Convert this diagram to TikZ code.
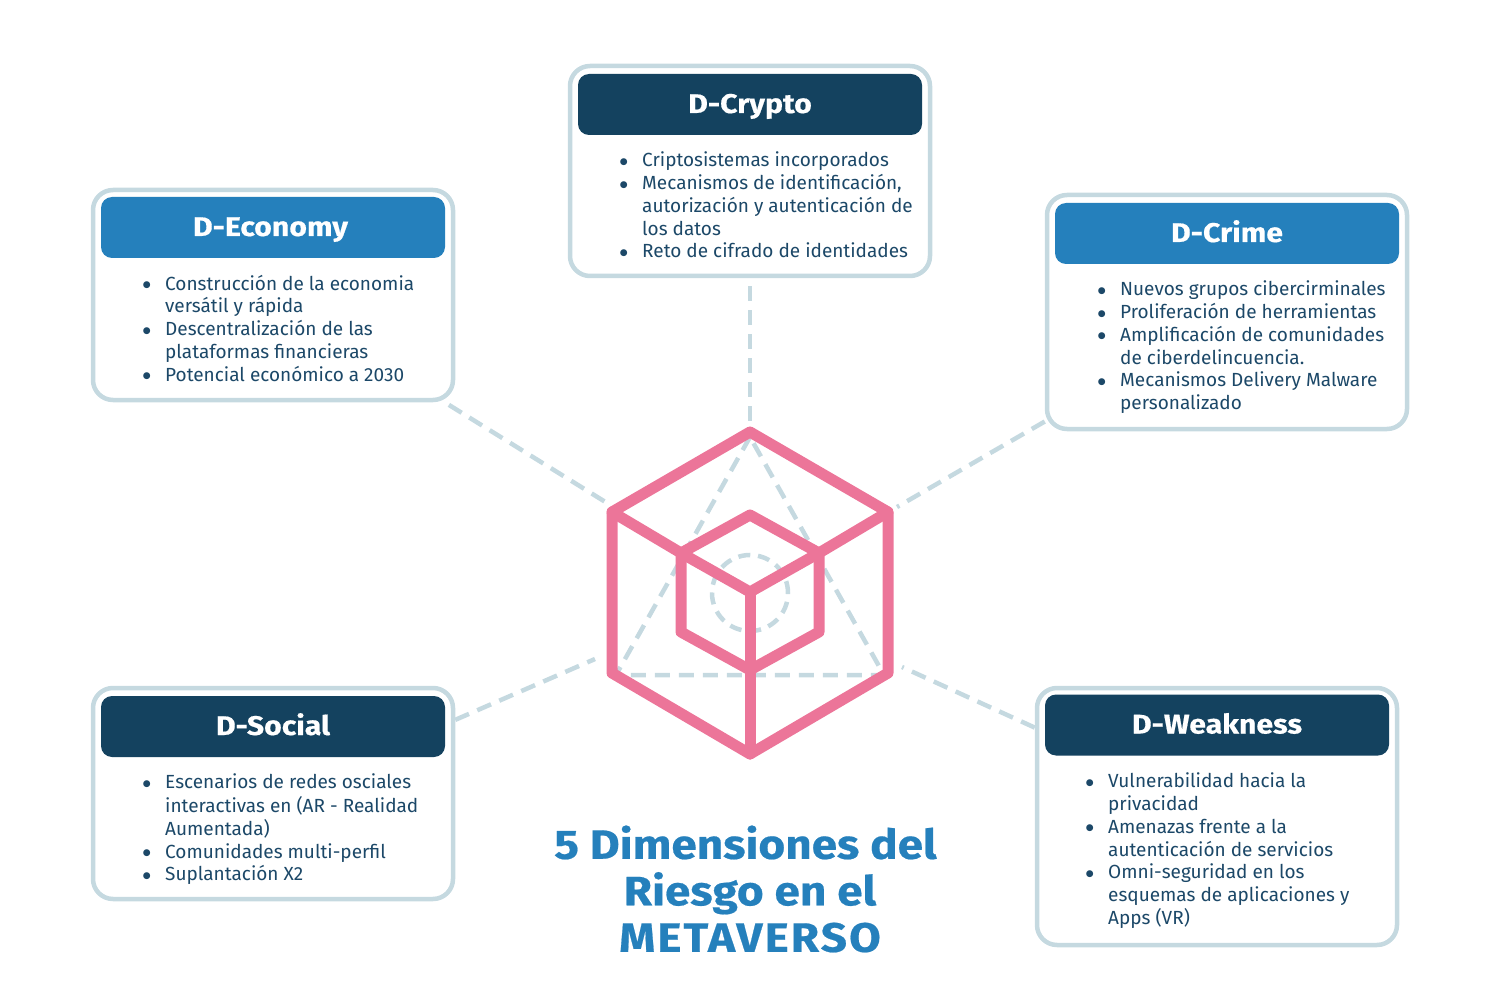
\documentclass[tikz,border=0pt]{standalone}
\usepackage{fontspec}
\setmainfont{Fira Sans}
\newfontfamily\widefont[FakeStretch=1.12,BoldFeatures={FakeBold=0.5}]{Fira Sans}
\newfontfamily\dotfont{DejaVu Sans}
\definecolor{framegray}{HTML}{C5D9E0}
\definecolor{navyhead}{HTML}{14425F}
\definecolor{bluehead}{HTML}{2580BC}
\definecolor{bodyink}{HTML}{1C4868}
\definecolor{cubepink}{HTML}{EC7599}
\newcommand{\itm}{\strut\llap{\raisebox{2.4pt}{\fontsize{9}{12}\dotfont ●}\hspace{14.5pt}}}
\tikzset{
	framebox/.style={draw=framegray,line width=4.5pt,rounded corners=20pt,fill=white,minimum width=360pt,inner sep=0pt},
	headbox/.style={rounded corners=11pt,text=white,minimum width=344pt,minimum height=61pt,inner sep=0pt,text height=17pt,text depth=0pt,font=\fontsize{27}{30}\selectfont\widefont\bfseries},
	bodytext/.style={anchor=north west,inner sep=0pt,align=left,text=bodyink,font=\fontsize{19}{22.8}\selectfont},
	dashline/.style={draw=framegray,line width=4.5pt,dash pattern=on 15pt off 9pt},
	cubeline/.style={draw=cubepink,line width=11pt,line join=round,line cap=round}
}
\begin{document}
\begin{tikzpicture}[x=1pt,y=-1pt]
	\useasboundingbox (0,0) rectangle (1500,1000);

	% frames
	\node[framebox,minimum height=210pt] (cryptobox) at (750,171) {};
	\node[framebox,minimum height=210pt] (economybox) at (273,295) {};
	\node[framebox,minimum height=234pt] (crimebox) at (1227,312) {};
	\node[framebox,minimum height=211pt] (socialbox) at (273,793.5) {};
	\node[framebox,minimum height=257pt] (weaknessbox) at (1217,816.5) {};

	% headers
	\node[headbox,fill=navyhead] (cryptohead) at (750,104.5) {D-Crypto};
	\node[headbox,fill=bluehead] (economyhead) at (273,227.5) {D-Economy\hspace*{5pt}};
	\node[headbox,fill=bluehead] (crimehead) at (1227,233.5) {D-Crime};
	\node[headbox,fill=navyhead] (socialhead) at (273,726.5) {D-Social};
	\node[headbox,fill=navyhead] (weaknesshead) at (1217,725) {D-Weakness};

	% lists
	\node[bodytext] (cryptotext) at (642,150.5) {\itm Criptosistemas incorporados\\\itm Mecanismos de identificación,\\autorización y autenticación de\\los datos\\\itm Reto de cifrado de identidades};
	\node[bodytext] (economytext) at (165,274) {\itm Construcción de la economia\\versátil y rápida\\\itm Descentralización de las\\plataformas financieras\\\itm Potencial económico a 2030};
	\node[bodytext] (crimetext) at (1120,279.5) {\itm Nuevos grupos cibercirminales\\\itm Proliferación de herramientas\\\itm Amplificación de comunidades\\de ciberdelincuencia.\\\itm Mecanismos Delivery Malware\\personalizado};
	\node[bodytext] (socialtext) at (165,772.5) {\itm Escenarios de redes osciales\\interactivas en (AR - Realidad\\Aumentada)\\\itm Comunidades multi-perfil\\\itm Suplantación X2};
	\node[bodytext] (weaknesstext) at (1108,771.5) {\itm Vulnerabilidad hacia la\\privacidad\\\itm Amenazas frente a la\\autenticación de servicios\\\itm Omni-seguridad en los\\esquemas de aplicaciones y\\Apps (VR)};

	% cube corners
	\coordinate (top) at (750,432);
	\coordinate (topleft) at (612,512);
	\coordinate (topright) at (888,512);
	\coordinate (lowleft) at (612,673);
	\coordinate (lowright) at (888,673);
	\coordinate (bottom) at (750,754);
	\coordinate (mid) at (750,670);
	\coordinate (innertop) at (750,515);
	\coordinate (innerleft) at (681,553);
	\coordinate (innerright) at (819,553);
	\coordinate (innerlowleft) at (681,632);
	\coordinate (innerlowright) at (819,632);
	\coordinate (innermid) at (750,592);

	% dashed links
	\coordinate (economytip) at (607,503);
	\coordinate (crimetip) at (897,507);
	\coordinate (socialtip) at (595,659);
	\coordinate (weaknesstip) at (902,667);
	\coordinate (triangletop) at (750,437);
	\coordinate (triangleleft) at (616,675);
	\coordinate (triangleright) at (884,675);
	\draw[dashline,shorten <=8pt] (cryptobox.south) -- (top);
	\draw[dashline,shorten <=5pt] (economybox.-32.6) -- (economytip);
	\draw[dashline] (crimebox.211.4) -- (crimetip);
	\draw[dashline] (socialbox.22.5) -- (socialtip);
	\draw[dashline] (weaknessbox.154.6) -- (weaknesstip);
	\draw[dashline] (triangletop) -- (triangleleft) -- (triangleright) -- cycle;
	\draw[dashline,dash pattern=on 12pt off 7.8pt] (750,593) circle[radius=38pt];

	% cube
	\draw[cubeline] (top) -- (topright) -- (lowright) -- (bottom) -- (lowleft) -- (topleft) -- cycle;
	\draw[cubeline] (topleft) -- (innerleft);
	\draw[cubeline] (topright) -- (innerright);
	\draw[cubeline] (innertop) -- (innerright) -- (innerlowright) -- (mid) -- (innerlowleft) -- (innerleft) -- cycle;
	\draw[cubeline] (innerleft) -- (innermid) -- (innerright);
	\draw[cubeline] (innermid) -- (bottom);

	% title
	\node[align=center,inner sep=0pt,text=bluehead,font=\fontsize{41}{46.5}\selectfont\widefont\bfseries] (titletext) at (750,889) {5 Dimensiones del\hspace*{9pt}\\Riesgo en el\\{\addfontfeature{LetterSpace=5}METAVERSO}};
\end{tikzpicture}
\end{document}
